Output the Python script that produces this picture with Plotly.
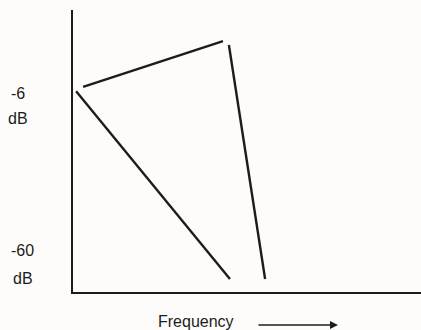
import plotly.graph_objects as go

# schematic response curves (frequency in arbitrary units, level in dB)
rise_freq = [2.9, 43.1]
rise_db = [-5.1, 8.0]
steep_freq = [44.8, 55.2]
steep_db = [6.9, -60.0]
slope_freq = [0.9, 45.1]
slope_db = [-6.3, -60.0]

level_labels = ["-6", "dB", "-60", "dB"]
level_pos = [-7.1, -14.2, -51.9, -59.8]
label_x = [-0.158, -0.159, -0.144, -0.144]

ink = "#1c1c1c"
lab_font = dict(size=16, color=ink, family="Liberation Sans, Arial, sans-serif")

fig = go.Figure()
for fx, fy in [(rise_freq, rise_db), (steep_freq, steep_db), (slope_freq, slope_db)]:
    fig.add_trace(go.Scatter(x=fx, y=fy, mode="lines", line=dict(color=ink, width=2.4),
                             showlegend=False, hoverinfo="skip"))

for txt, yv, xv in zip(level_labels, level_pos, label_x):
    fig.add_annotation(x=xv, xref="paper", y=yv, yref="y", text=txt, showarrow=False,
                       xanchor="center", yanchor="middle", font=lab_font)

fig.add_annotation(x=0.353, xref="paper", y=-0.106, yref="paper", text="Frequency", showarrow=False,
                   xanchor="center", yanchor="middle", font=lab_font)
fig.add_annotation(x=0.7615, xref="paper", y=-0.117, yref="paper", ax=-81, ay=0, text="",
                   showarrow=True, arrowhead=2, arrowsize=1, arrowwidth=1.6, arrowcolor=ink)

fig.update_xaxes(range=[0, 100], showline=True, linecolor=ink, linewidth=2, showgrid=False,
                 zeroline=False, showticklabels=False, ticks="")
fig.update_yaxes(range=[-63.7, 16.9], showline=True, linecolor=ink, linewidth=2, showgrid=False,
                 zeroline=False, showticklabels=False, ticks="")
fig.update_layout(width=421, height=330, margin=dict(l=73, r=0, t=10, b=38),
                  paper_bgcolor="#fdfcfa", plot_bgcolor="#fdfcfa")
fig.write_html("out.html", config={"displayModeBar": False},
               post_script="document.body.style.margin='0';")
